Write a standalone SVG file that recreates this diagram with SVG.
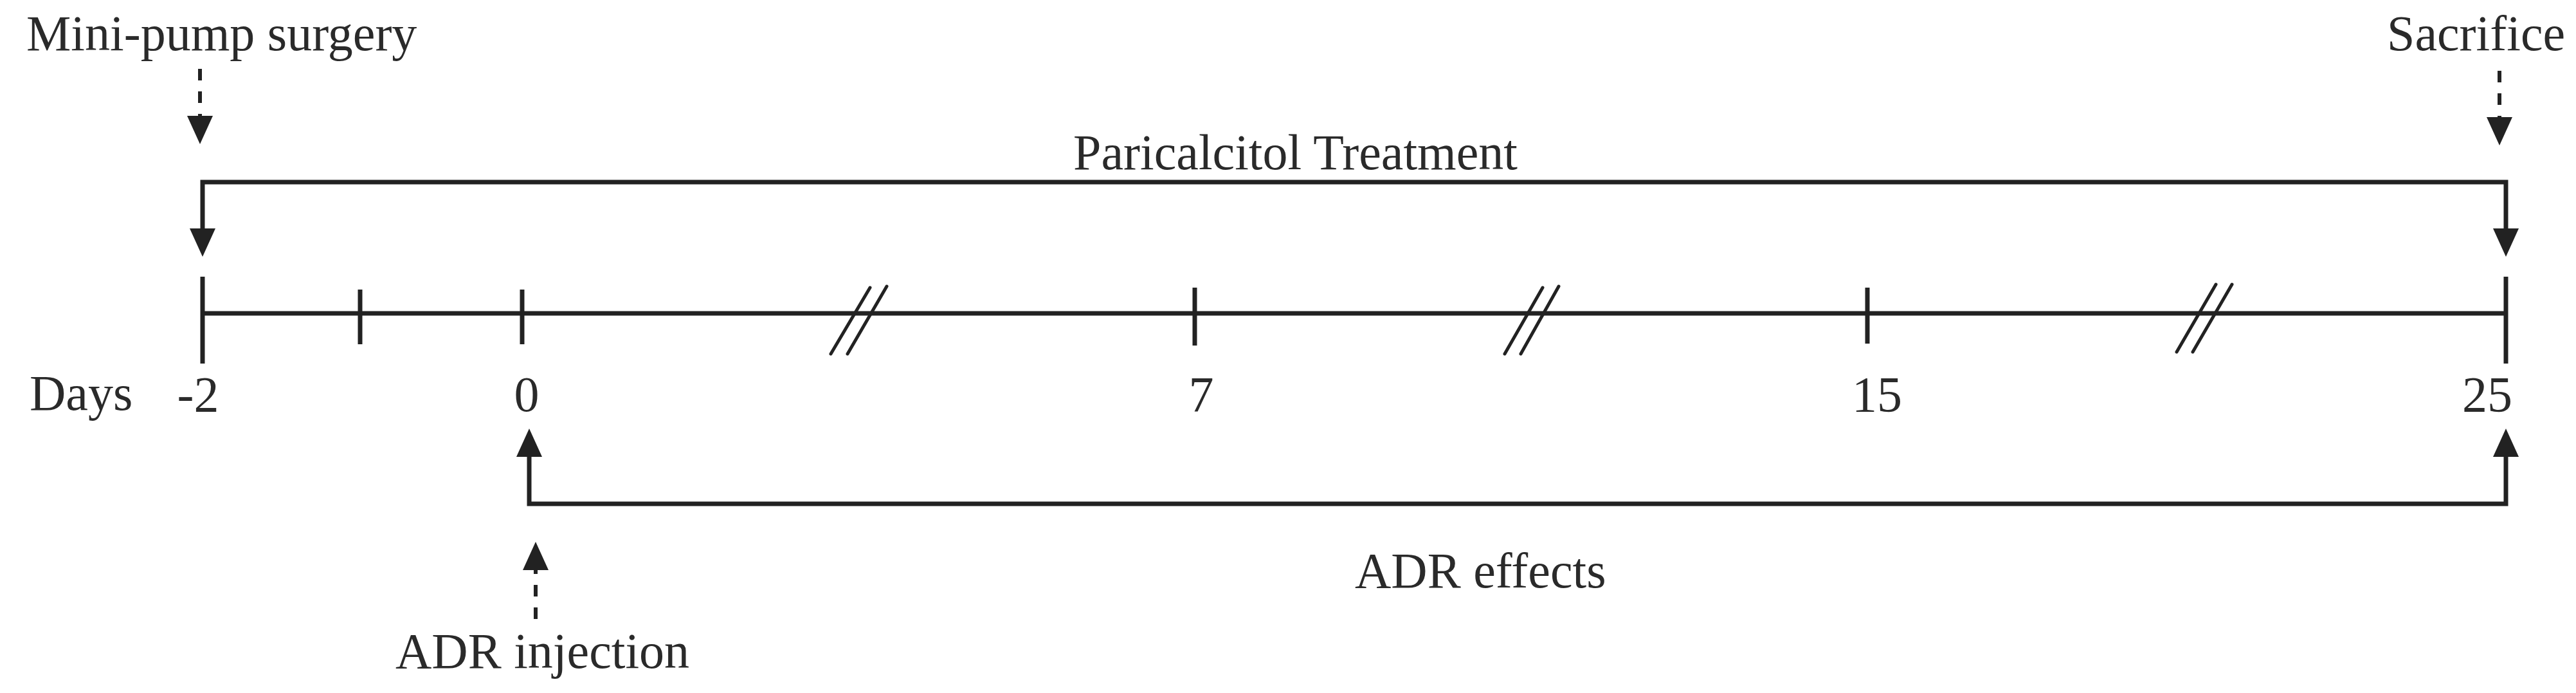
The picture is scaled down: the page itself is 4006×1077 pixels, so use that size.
<svg xmlns="http://www.w3.org/2000/svg" width="4006" height="1077" viewBox="0 0 4006 1077">
<style>
  text { font-family: "Liberation Serif", "Times New Roman", serif; font-size: 78px; fill: #2a2a2a; }
  .mid { text-anchor: middle; }
  .solid { fill: none; stroke: #222; stroke-width: 7; stroke-linejoin: miter; }
  .dash { fill: none; stroke: #222; stroke-width: 6; stroke-dasharray: 18 17; }
  .tick { stroke: #222; stroke-width: 7; }
  .brk { stroke: #222; stroke-width: 5; stroke-linecap: round; }
</style>
<defs>
  <marker id="ah" markerUnits="userSpaceOnUse" markerWidth="44" markerHeight="40" refX="0" refY="20" orient="auto-start-reverse" viewBox="0 0 44 40">
    <path d="M0,0 L44,20 L0,40 Z" fill="#222"/>
  </marker>
</defs>
<rect width="4006" height="1077" fill="#fff"/>

<g id="timeline">
  <line class="solid" x1="315" y1="487" x2="3897" y2="487"/>
  <line class="tick" x1="315" y1="430" x2="315" y2="565"/>
  <line class="tick" x1="560" y1="450" x2="560" y2="535"/>
  <line class="tick" x1="812" y1="450" x2="812" y2="535"/>
  <line class="tick" x1="1858" y1="447" x2="1858" y2="537"/>
  <line class="tick" x1="2904" y1="447" x2="2904" y2="534"/>
  <line class="tick" x1="3897" y1="430" x2="3897" y2="565"/>
  <g id="break1">
    <line class="brk" x1="1292" y1="550" x2="1353" y2="447"/>
    <line class="brk" x1="1318" y1="550" x2="1379" y2="445"/>
  </g>
  <g id="break2">
    <line class="brk" x1="2340" y1="550" x2="2399" y2="447"/>
    <line class="brk" x1="2365" y1="550" x2="2424" y2="445"/>
  </g>
  <g id="break3">
    <line class="brk" x1="3385" y1="547" x2="3446" y2="442"/>
    <line class="brk" x1="3410" y1="547" x2="3471" y2="442"/>
  </g>
</g>

<g id="labels-days">
  <text x="46" y="637">Days</text>
  <text class="mid" x="308" y="639">-2</text>
  <text class="mid" x="819" y="639">0</text>
  <text class="mid" x="1868" y="639">7</text>
  <text class="mid" x="2919" y="639">15</text>
  <text class="mid" x="3868" y="639">25</text>
</g>

<g id="node-minipump">
  <text x="41" y="78">Mini-pump surgery</text>
</g>
<g id="node-sacrifice">
  <text x="3712" y="78">Sacrifice</text>
</g>
<g id="node-paricalcitol">
  <text x="1669" y="263">Paricalcitol Treatment</text>
</g>
<g id="node-adr-effects">
  <text x="2107" y="913">ADR effects</text>
</g>
<g id="node-adr-injection">
  <text x="615" y="1038">ADR injection</text>
</g>

<g id="connectors">
  <path class="solid" d="M315,355 V283 H3897 V355" marker-start="url(#ah)" marker-end="url(#ah)"/>
  <path class="solid" d="M823,710 V783 H3897 V710" marker-start="url(#ah)" marker-end="url(#ah)"/>
  <line class="dash" x1="311" y1="107" x2="311" y2="180" marker-end="url(#ah)"/>
  <line class="dash" x1="3887" y1="110" x2="3887" y2="182" marker-end="url(#ah)"/>
  <line class="dash" x1="833" y1="962" x2="833" y2="886" marker-end="url(#ah)"/>
</g>
</svg>
